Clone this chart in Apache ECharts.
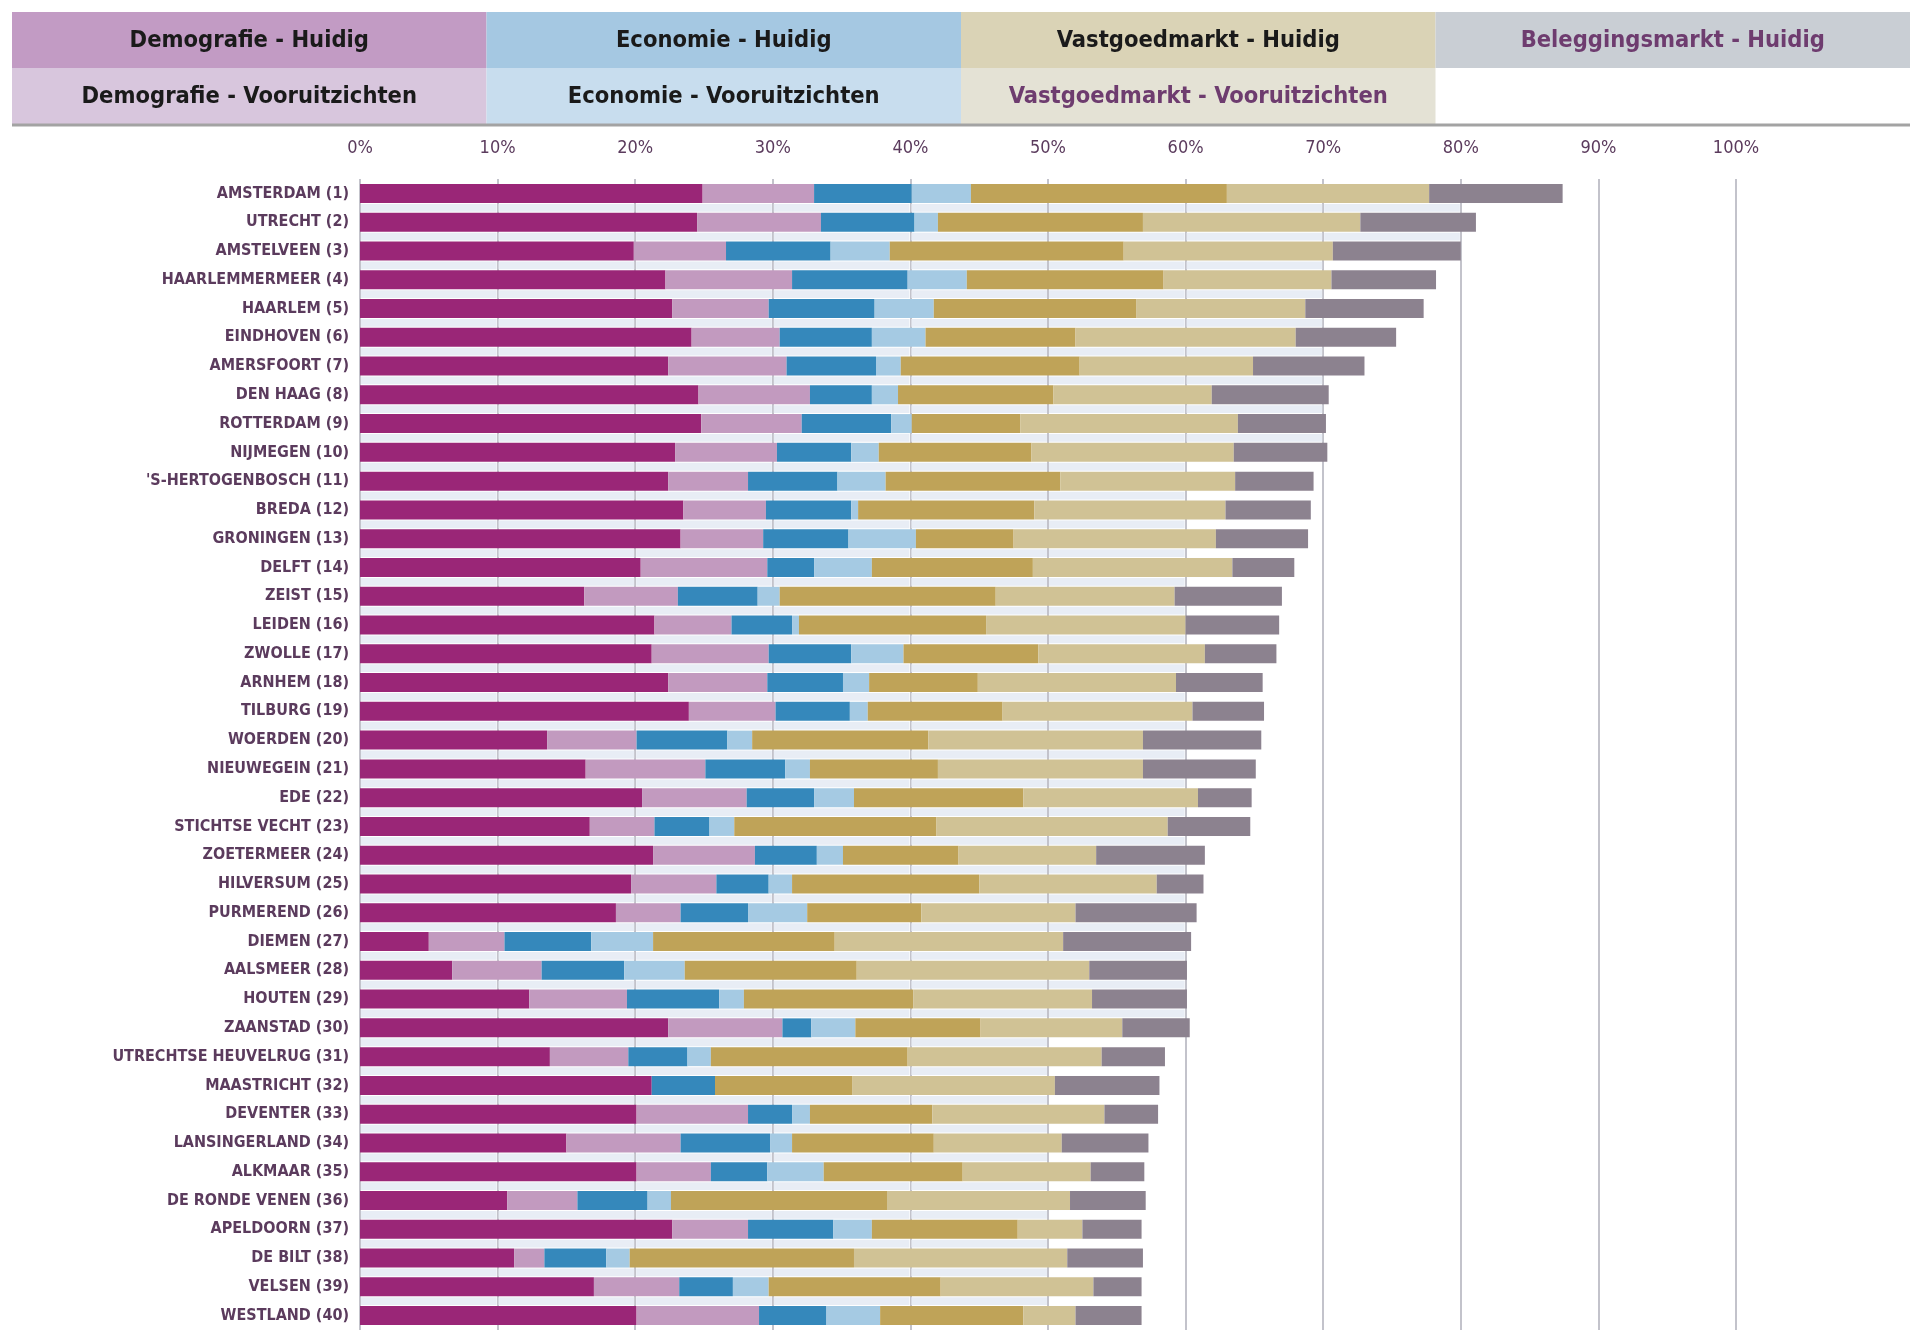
<!DOCTYPE html>
<html><head><meta charset="utf-8">
<script src="https://cdn.jsdelivr.net/npm/echarts@6/dist/echarts.min.js"></script>
<style>html,body{margin:0;padding:0;background:#fff}#c{width:1926px;height:1342px}</style>
</head><body><div id="c"></div>
<script>
const categories = ['AMSTERDAM (1)', 'UTRECHT (2)', 'AMSTELVEEN (3)', 'HAARLEMMERMEER (4)', 'HAARLEM (5)', 'EINDHOVEN (6)', 'AMERSFOORT (7)', 'DEN HAAG (8)', 'ROTTERDAM (9)', 'NIJMEGEN (10)', "'S-HERTOGENBOSCH (11)", 'BREDA (12)', 'GRONINGEN (13)', 'DELFT (14)', 'ZEIST (15)', 'LEIDEN (16)', 'ZWOLLE (17)', 'ARNHEM (18)', 'TILBURG (19)', 'WOERDEN (20)', 'NIEUWEGEIN (21)', 'EDE (22)', 'STICHTSE VECHT (23)', 'ZOETERMEER (24)', 'HILVERSUM (25)', 'PURMEREND (26)', 'DIEMEN (27)', 'AALSMEER (28)', 'HOUTEN (29)', 'ZAANSTAD (30)', 'UTRECHTSE HEUVELRUG (31)', 'MAASTRICHT (32)', 'DEVENTER (33)', 'LANSINGERLAND (34)', 'ALKMAAR (35)', 'DE RONDE VENEN (36)', 'APELDOORN (37)', 'DE BILT (38)', 'VELSEN (39)', 'WESTLAND (40)'];

const demografieHuidig = [24.9, 24.5, 19.9, 22.2, 22.7, 24.1, 22.4, 24.6, 24.8, 22.9, 22.4, 23.5, 23.3, 20.4, 16.3, 21.4, 21.2, 22.4, 23.9, 13.6, 16.4, 20.5, 16.7, 21.3, 19.7, 18.6, 5.0, 6.7, 12.3, 22.4, 13.8, 21.2, 20.1, 15.0, 20.1, 10.7, 22.7, 11.2, 17.0, 20.1];
const demografieVooruitzichten = [8.1, 9.0, 6.7, 9.2, 7.0, 6.4, 8.6, 8.1, 7.3, 7.4, 5.8, 6.0, 6.0, 9.2, 6.8, 5.6, 8.5, 7.2, 6.3, 6.5, 8.7, 7.6, 4.7, 7.4, 6.2, 4.7, 5.5, 6.5, 7.1, 8.3, 5.7, 0, 8.1, 8.3, 5.4, 5.1, 5.5, 2.2, 6.2, 8.9];
const economieHuidig = [7.1, 6.8, 7.6, 8.4, 7.7, 6.7, 6.5, 4.5, 6.5, 5.4, 6.5, 6.2, 6.2, 3.4, 5.8, 4.4, 6.0, 5.5, 5.4, 6.6, 5.8, 4.9, 4.0, 4.5, 3.8, 4.9, 6.3, 6.0, 6.7, 2.1, 4.3, 4.6, 3.2, 6.5, 4.1, 5.1, 6.2, 4.5, 3.9, 4.9];
const economieVooruitzichten = [4.3, 1.7, 4.3, 4.3, 4.3, 3.9, 1.8, 1.9, 1.5, 2.0, 3.5, 0.5, 4.9, 4.2, 1.6, 0.5, 3.8, 1.9, 1.3, 1.8, 1.8, 2.9, 1.8, 1.9, 1.7, 4.3, 4.5, 4.4, 1.8, 3.2, 1.7, 0, 1.3, 1.6, 4.1, 1.7, 2.8, 1.7, 2.6, 3.9];
const vastgoedmarktHuidig = [18.6, 14.9, 17.0, 14.3, 14.7, 10.9, 13.0, 11.3, 7.9, 11.1, 12.7, 12.8, 7.1, 11.7, 15.7, 13.6, 9.8, 7.9, 9.8, 12.8, 9.3, 12.3, 14.7, 8.4, 13.6, 8.3, 13.2, 12.5, 12.3, 9.1, 14.3, 10.0, 8.9, 10.3, 10.1, 15.7, 10.6, 16.3, 12.5, 10.4];
const vastgoedmarktVooruitzichten = [14.7, 15.8, 15.2, 12.2, 12.3, 16.0, 12.6, 11.5, 15.8, 14.7, 12.7, 13.9, 14.7, 14.5, 13.0, 14.5, 12.1, 14.4, 13.8, 15.6, 14.9, 12.7, 16.8, 10.0, 12.9, 11.2, 16.6, 16.9, 13.0, 10.3, 14.1, 14.7, 12.5, 9.3, 9.3, 13.3, 4.7, 15.5, 11.1, 3.8];
const beleggingsmarktHuidig = [9.7, 8.4, 9.3, 7.6, 8.6, 7.3, 8.1, 8.5, 6.4, 6.8, 5.7, 6.2, 6.7, 4.5, 7.8, 6.8, 5.2, 6.3, 5.2, 8.6, 8.2, 3.9, 6.0, 7.9, 3.4, 8.8, 9.3, 7.1, 6.9, 4.9, 4.6, 7.6, 3.9, 6.3, 3.9, 5.5, 4.3, 5.5, 3.5, 4.8];

const seriesNames = ['Demografie - Huidig', 'Demografie - Vooruitzichten', 'Economie - Huidig', 'Economie - Vooruitzichten', 'Vastgoedmarkt - Huidig', 'Vastgoedmarkt - Vooruitzichten', 'Beleggingsmarkt - Huidig'];
const seriesData = [demografieHuidig, demografieVooruitzichten, economieHuidig, economieVooruitzichten, vastgoedmarktHuidig, vastgoedmarktVooruitzichten, beleggingsmarktHuidig];
const tickValues = [0, 10, 20, 30, 40, 50, 60, 70, 80, 90, 100];

const barColors = ['#9a2677', '#c29abf', '#3588bb', '#a5cae3', '#bfa358', '#d0c295', '#8c828f'];
const legendBoxColors = ['#c29bc4', '#d8c6dd', '#a5c8e2', '#c8ddee', '#dad3b6', '#e4e2d5', '#c9ced4'];
const legendTextColors = ['#1a1a1a', '#1a1a1a', '#1a1a1a', '#1a1a1a', '#1a1a1a', '#6e3c6f', '#6e3c6f'];

// totals and light gap bands (filled up to the last full gridline cell shared by adjacent rows)
const totals = categories.map((c, i) => seriesData.reduce((s, arr) => s + arr[i], 0));
const bandData = [];
for (let i = 0; i < categories.length - 1; i++) {
  const m = Math.min(totals[i], totals[i + 1]);
  bandData.push([Math.floor(m / 10 + 1e-6) * 10, i]);
}

const chart = echarts.init(document.getElementById('c'), null, {renderer: 'canvas'});
const barW = 19;
const labelFont = 'DejaVu Sans Condensed';
const purple = '#5b3b5d';

const series = seriesNames.map((n, i) => ({
  name: n, type: 'bar', stack: 'total', barWidth: barW, z: 3,
  data: seriesData[i], itemStyle: {color: barColors[i]}, emphasis: {disabled: true}
}));
series.push({
  type: 'custom', z: 1, silent: true, data: bandData, encode: {x: 0, y: 1},
  renderItem: function (params, api) {
    const end = api.value(0), idx = api.value(1);
    const a = api.coord([0, idx]), b = api.coord([0, idx + 1]);
    const y0 = a[1] + barW / 2 + 1, y1 = b[1] - barW / 2 - 1;
    const children = [];
    for (let k = 0; k < end - 1e-6; k += 10) {
      const x0 = api.coord([k, idx])[0] + 1;
      const x1 = api.coord([k + 10, idx])[0] - 1;
      children.push({type: 'rect', shape: {x: x0, y: y0, width: x1 - x0, height: y1 - y0}, style: {fill: '#e8edf5'}});
    }
    return {type: 'group', children: children};
  }
});

// legend table drawn as graphic
const graphics = [];
const lx = 12, lw = 474.5, ly = 12, lh = 56;
seriesNames.forEach((n, i) => {
  const col = Math.floor(i / 2), row = i % 2;
  graphics.push({type: 'rect', shape: {x: lx + col * lw, y: ly + row * lh, width: lw, height: lh}, style: {fill: legendBoxColors[i]}, z: 1});
  graphics.push({type: 'text', x: lx + col * lw + lw / 2, y: ly + row * lh + lh / 2 + 1, z: 2,
    style: {text: n, fill: legendTextColors[i], font: 'bold 23.5px "' + labelFont + '"', textAlign: 'center', textVerticalAlign: 'middle'}});
});
graphics.push({type: 'rect', shape: {x: 12, y: 123.5, width: 1898, height: 3}, style: {fill: '#a3a3a3'}, z: 1});

chart.setOption({
  animation: false,
  backgroundColor: '#ffffff',
  grid: {left: 360, right: 190, top: 179, bottom: 12},
  xAxis: {
    type: 'value', position: 'top', min: tickValues[0], max: tickValues[tickValues.length - 1], interval: 10,
    axisLine: {show: false}, axisTick: {show: false},
    axisLabel: {formatter: '{value}%', color: purple, fontSize: 18, fontFamily: labelFont, margin: 22},
    splitLine: {show: true, lineStyle: {color: '#c3c3cb', width: 2}}
  },
  yAxis: {
    type: 'category', inverse: true, data: categories,
    axisLine: {show: false}, axisTick: {show: false},
    axisLabel: {color: purple, fontSize: 16, fontWeight: 'bold', fontFamily: labelFont, margin: 11}
  },
  graphic: graphics,
  series: series
});
</script></body></html>
